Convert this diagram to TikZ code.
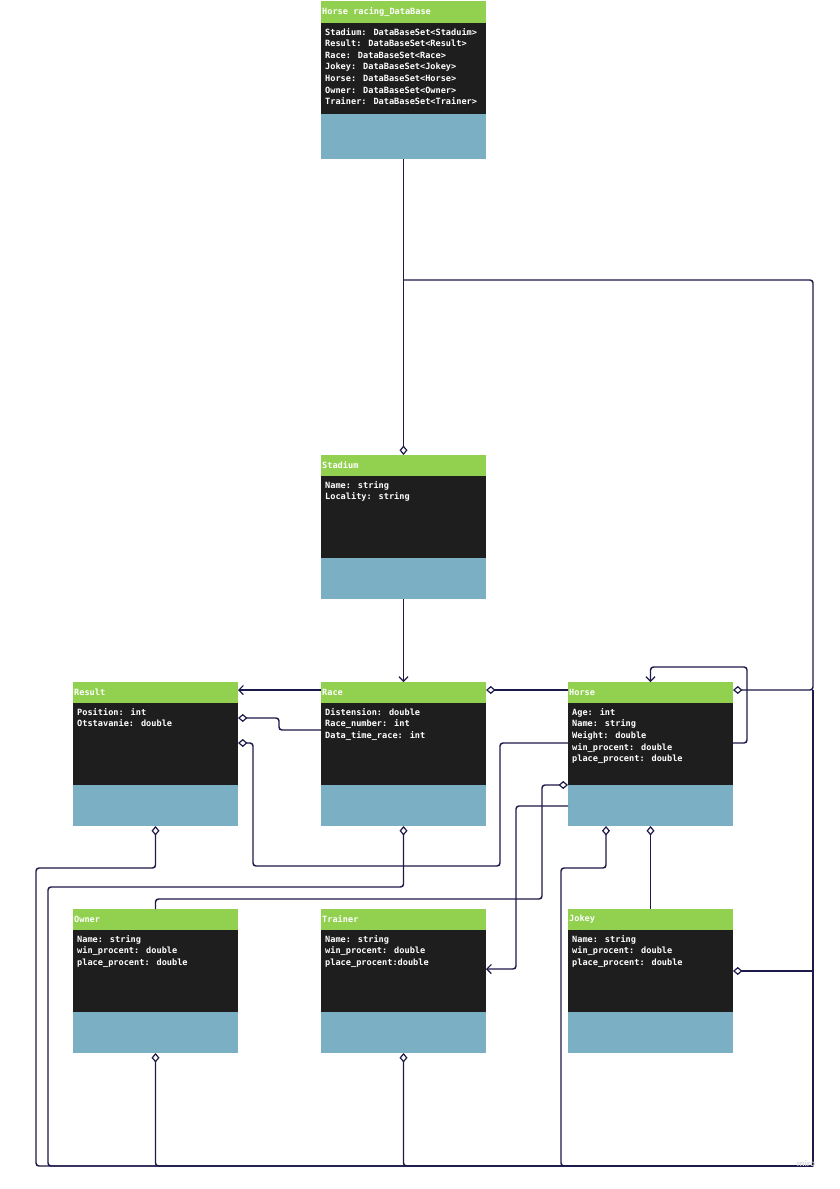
\documentclass[tikz,border=0pt]{standalone}
\usepackage{fontspec}
\newfontfamily\umlfont{DejaVu Sans Mono}
\usetikzlibrary{arrows.meta}
\definecolor{hdrgreen}{HTML}{92D050}
\definecolor{bodydark}{HTML}{1E1E1E}
\definecolor{footblue}{HTML}{7BAFC4}
\definecolor{linecol}{HTML}{1C1A48}
\tikzset{
  classnode/.style={anchor=north west, minimum width=165pt, inner sep=0pt, outer sep=0pt},
  hdrtext/.style={anchor=west, inner sep=0pt, text=white, font=\umlfont\bfseries\fontsize{8.6}{11.6}\selectfont},
  bodytext/.style={anchor=north west, inner sep=0pt, align=left, text=white, font=\umlfont\bfseries\fontsize{8.6}{11.6}\selectfont},
  conn/.style={draw=linecol, line width=1.45pt, rounded corners=3pt},
  agg/.style={conn, {Diamond[fill=white, length=9.5pt, width=8pt, line width=1.2pt]}-},
  arr/.style={conn, -{Straight Barb[length=4.5pt, width=9pt, line width=1.2pt]}},
}
\newcommand\umlclass[8]{%
  \node[classnode, minimum height=#4pt] (#1) at (#2,#3) {};
  \fill[hdrgreen] (#1.north west) rectangle ([yshift=-#5pt]#1.north east);
  \fill[bodydark] ([yshift=-#5pt]#1.north west) rectangle ([yshift=-#6pt]#1.north east);
  \fill[footblue] ([yshift=-#6pt]#1.north west) rectangle (#1.south east);
  \node[hdrtext] at ([xshift=1pt,yshift=-#5pt/2]#1.north west) {#7};
  \node[bodytext] at ([xshift=4pt,yshift=-#5pt-5pt]#1.north west) {#8};
}
\begin{document}
\begin{tikzpicture}[x=1pt,y=-1pt]
\useasboundingbox[fill=white] (0,0) rectangle (840,1189);

\umlclass{db}{321}{1}{158}{22}{113}{Horse racing\_DataBase}{Stadium: DataBaseSet<Staduim>\\Result: DataBaseSet<Result>\\Race: DataBaseSet<Race>\\Jokey: DataBaseSet<Jokey>\\Horse: DataBaseSet<Horse>\\Owner: DataBaseSet<Owner>\\Trainer: DataBaseSet<Trainer>}
\umlclass{stadium}{321}{455}{144}{21}{103}{Stadium}{Name: string\\Locality: string}
\umlclass{result}{73}{682}{144}{21}{103}{Result}{Position: int\\Otstavanie: double}
\umlclass{race}{321}{682}{144}{21}{103}{Race}{Distension: double\\Race\_number: int\\Data\_time\_race: int}
\umlclass{horse}{568}{682}{144}{21}{103}{Horse}{Age: int\\Name: string\\Weight: double\\win\_procent: double\\place\_procent: double}
\umlclass{owner}{73}{909}{144}{21}{103}{Owner}{Name: string\\win\_procent: double\\place\_procent: double}
\umlclass{trainer}{321}{909}{144}{21}{103}{Trainer}{Name: string\\win\_procent: double\\place\_procent:double}
\umlclass{jokey}{568}{909}{144}{21}{103}{Jokey}{Name: string\\win\_procent: double\\place\_procent: double}

% connectors
\draw[agg] (stadium.north) -- (db.south);
\draw[agg] ([yshift=-8pt]horse.north east) -| (813,280) -- ([yshift=-121pt]db.south);
\draw[conn] (813,690) -- (813,1166);
\draw[agg] ([yshift=-62pt]jokey.north east) -- (813,971);
\draw[arr] (stadium.south) -- (race.north);
\draw[arr] ([yshift=-8pt]race.north west) -- ([yshift=-8pt]result.north east);
\draw[agg] ([yshift=-8pt]race.north east) -- ([yshift=-8pt]horse.north west);
\draw[agg] ([yshift=-36pt]result.north east) -- (279,718) -- (279,730) -- ([yshift=-48pt]race.north west);
\draw[agg] ([yshift=-61pt]result.north east) -- (253,743) -- (253,866) -- (500,866) -- (500,743) -- ([yshift=-61pt]horse.north west);
\draw[arr] ([yshift=-61pt]horse.north east) -- (747,743) -- (747,667) -- (650.5,667) -- (horse.north);
\draw[agg] ([yshift=-103pt]horse.north west) -- (542,785) -- (542,899) -- (155.5,899) -- (owner.north);
\draw[arr] ([yshift=-124pt]horse.north west) -- (516,806) -- (516,969) -- ([yshift=-60pt]trainer.north east);
\draw[agg] (horse.south) -- (jokey.north);
\draw[agg] ([xshift=-44.5pt]horse.south) -- (606,868) -- (561,868) -- (561,1166) -- (813,1166);
\draw[agg] (result.south) -- (155.5,868) -- (36,868) -- (36,1166) -- (813,1166);
\draw[agg] (race.south) -- (403.5,887) -- (48,887) -- (48,1166) -- (813,1166);
\draw[agg] (owner.south) -- (155.5,1166) -- (813,1166);
\draw[agg] (trainer.south) -- (403.5,1166) -- (813,1166);

\node[text=black!15, font=\sffamily\bfseries\fontsize{9}{9}\selectfont] (miro) at (806,1164) {miro};
\end{tikzpicture}
\end{document}
